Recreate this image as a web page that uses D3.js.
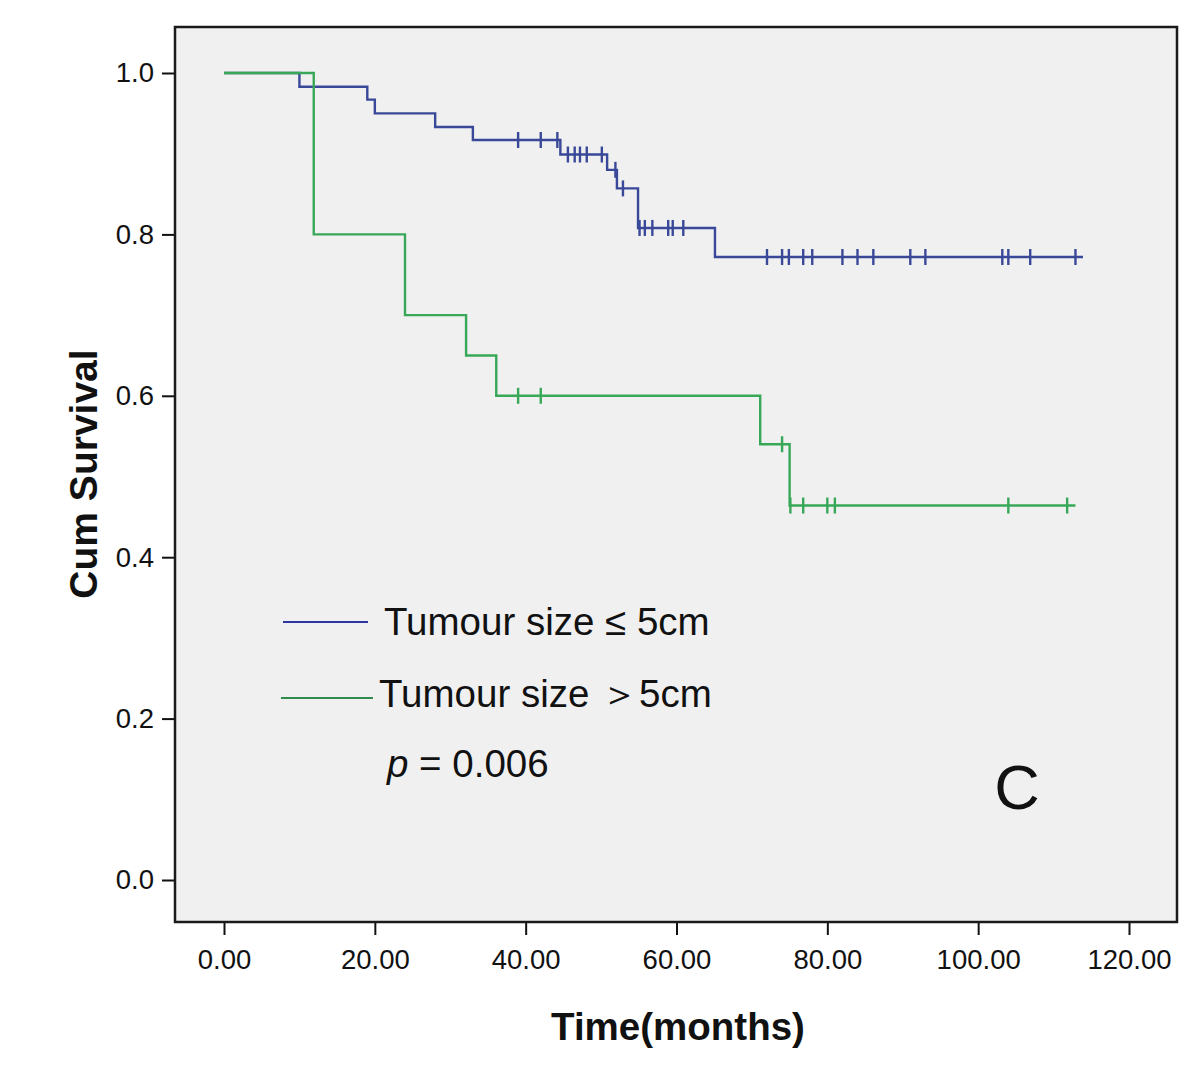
<!DOCTYPE html>
<html><head><meta charset="utf-8">
<script src="https://cdn.jsdelivr.net/npm/d3@7"></script>
<style>
body{margin:0;background:#fff;}
svg{display:block;font-family:"Liberation Sans",Arial,sans-serif;}
</style></head>
<body><svg id="c" width="1200" height="1088"></svg>
<script>
// ---- data ----
const xTicks = [0, 20, 40, 60, 80, 100, 120];
const yTicks = [0, 0.2, 0.4, 0.6, 0.8, 1.0];
const seriesNames = ["Tumour size \u2264 5cm", "Tumour size \uFF1E5cm"];
// Blue group (<=5cm): step events [time, survival after event]
const blueEvents = [[10, 0.983], [19, 0.967], [20, 0.950], [28, 0.933], [33, 0.917],
  [44.6, 0.899], [50.8, 0.880], [52.1, 0.857], [54.9, 0.808], [65.1, 0.772]];
const blueCensored = [39.0, 42.0, 44.2, 45.6, 46.5, 47.2, 48.1, 50.1, 51.9, 52.9,
  55.1, 55.8, 56.8, 58.9, 59.5, 60.9, 72.0, 74.0, 74.9, 76.8, 78.0, 82.0, 84.0, 86.1,
  91.0, 93.0, 103.2, 104.0, 106.9, 112.9];
const blueEnd = 113.9;
// Green group (>5cm)
const greenEvents = [[11.9, 0.80], [24.0, 0.70], [32.1, 0.65], [36.1, 0.60], [71.1, 0.54], [75.0, 0.464]];
const greenCensored = [39.0, 42.0, 74.0, 75.1, 76.8, 80.0, 81.0, 104.0, 111.8];
const greenEnd = 112.9;
const pText = "= 0.006";
const panelLabel = "C";

// ---- layout ----
const svg = d3.select("#c");
const frame = {l: 175, t: 27, r: 1177, b: 922};
const x = d3.scaleLinear().domain([0, 120]).range([224, 1129]);
const y = d3.scaleLinear().domain([0, 1]).range([880, 73]);
const colBlue = "#394898", colGreen = "#38A858";

svg.append("rect").attr("x", frame.l).attr("y", frame.t)
  .attr("width", frame.r - frame.l).attr("height", frame.b - frame.t)
  .attr("fill", "#F0F0F0");

// axes
const yAxis = svg.append("g").attr("transform", `translate(${frame.l},0)`)
  .call(d3.axisLeft(y).tickValues(yTicks).tickFormat(d3.format(".1f")).tickSize(13).tickPadding(8));
const xAxis = svg.append("g").attr("transform", `translate(0,${frame.b})`)
  .call(d3.axisBottom(x).tickValues(xTicks).tickFormat(d3.format(".2f")).tickSize(13).tickPadding(14));
[yAxis, xAxis].forEach(g => {
  g.select(".domain").remove();
  g.selectAll(".tick line").attr("stroke", "#111").attr("stroke-width", 2);
  g.selectAll(".tick text").attr("fill", "#111").style("font-size", "27.5px")
    .style("font-family", "'Liberation Sans', Arial, sans-serif");
});

// frame border
svg.append("rect").attr("x", frame.l).attr("y", frame.t)
  .attr("width", frame.r - frame.l).attr("height", frame.b - frame.t)
  .attr("fill", "none").attr("stroke", "#1a1a1a").attr("stroke-width", 2.5);

// step curves
function stepPoints(events, end) {
  const pts = [[0, 1]];
  let cur = 1;
  events.forEach(([t, s]) => { pts.push([t, cur]); pts.push([t, s]); cur = s; });
  pts.push([end, cur]);
  return pts;
}
function survAt(events, t) {
  let s = 1;
  events.forEach(([et, v]) => { if (et <= t) s = v; });
  return s;
}
const line = d3.line().x(d => x(d[0])).y(d => y(d[1]));

function drawSeries(events, censored, end, color) {
  svg.append("path").datum(stepPoints(events, end))
    .attr("d", line).attr("fill", "none").attr("stroke", color).attr("stroke-width", 2.4);
  svg.append("g").selectAll("line").data(censored).join("line")
    .attr("x1", d => x(d)).attr("x2", d => x(d))
    .attr("y1", d => y(survAt(events, d)) - 8).attr("y2", d => y(survAt(events, d)) + 8)
    .attr("stroke", color).attr("stroke-width", 2.4);
}
drawSeries(blueEvents, blueCensored, blueEnd, colBlue);
drawSeries(greenEvents, greenCensored, greenEnd, colGreen);

// legend
const leg = [
  {name: seriesNames[0], color: "#2E35A0", x1: 283, x2: 368, y: 622, tx: 384, ty: 635},
  {name: seriesNames[1], color: "#2F8A4C", x1: 281, x2: 373, y: 698, tx: 379, ty: 707}
];
leg.forEach(d => {
  svg.append("line").attr("x1", d.x1).attr("x2", d.x2).attr("y1", d.y).attr("y2", d.y)
    .attr("stroke", d.color).attr("stroke-width", 2);
  svg.append("text").attr("x", d.tx).attr("y", d.ty).text(d.name)
    .style("font-size", "38.5px").attr("fill", "#111");
});
const pt = svg.append("text").attr("x", 387).attr("y", 777).style("font-size", "38.5px").attr("fill", "#111");
pt.append("tspan").text("p").style("font-style", "italic");
pt.append("tspan").text(" " + pText);

svg.append("text").attr("x", 1017).attr("y", 809).attr("text-anchor", "middle")
  .style("font-size", "63px").attr("fill", "#111").text(panelLabel);

// axis titles
svg.append("text").attr("x", 678).attr("y", 1040).attr("text-anchor", "middle")
  .style("font-size", "38.5px").style("font-weight", "bold").attr("fill", "#111").text("Time(months)");
svg.append("text").attr("transform", "translate(97,474) rotate(-90)").attr("text-anchor", "middle")
  .style("font-size", "39px").style("font-weight", "bold").attr("fill", "#111").text("Cum Survival");
</script></body></html>
